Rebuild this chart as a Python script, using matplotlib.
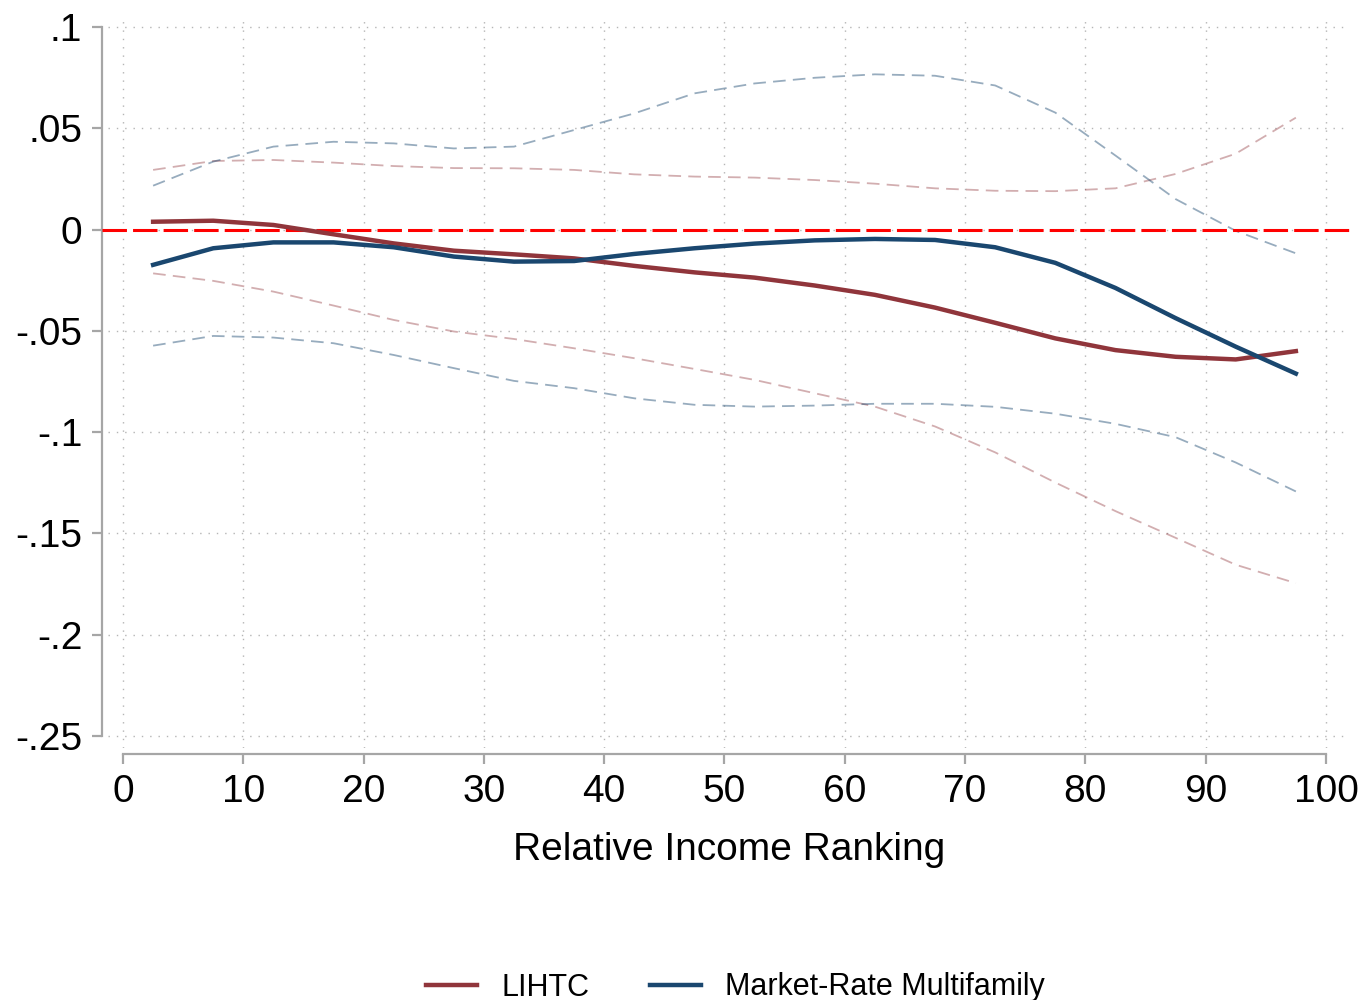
import matplotlib
matplotlib.use("Agg")
import matplotlib.pyplot as plt

plt.rcParams['font.family'] = ['Liberation Sans', 'DejaVu Sans']

# income ranking bins (midpoints)
x = [2.5, 7.5, 12.5, 17.5, 22.5, 27.5, 32.5, 37.5, 42.5, 47.5,
     52.5, 57.5, 62.5, 67.5, 72.5, 77.5, 82.5, 87.5, 92.5, 97.5]

lihtc = [0.0039, 0.0044, 0.0023, -0.0023, -0.0068, -0.0104, -0.0122, -0.0142, -0.0179, -0.0211,
         -0.0237, -0.0276, -0.0322, -0.0385, -0.0460, -0.0537, -0.0595, -0.0628, -0.0641, -0.0600]
lihtc_hi = [0.0295, 0.0339, 0.0344, 0.0331, 0.0314, 0.0304, 0.0303, 0.0295, 0.0273, 0.0262,
            0.0257, 0.0245, 0.0227, 0.0204, 0.0192, 0.0190, 0.0204, 0.0275, 0.0375, 0.0553]
lihtc_lo = [-0.0216, -0.0253, -0.0306, -0.0375, -0.0446, -0.0503, -0.0540, -0.0586, -0.0635, -0.0688,
            -0.0742, -0.0808, -0.0874, -0.0972, -0.1100, -0.1249, -0.1390, -0.1522, -0.1655, -0.1746]

market = [-0.0174, -0.0092, -0.0063, -0.0063, -0.0087, -0.0133, -0.0158, -0.0155, -0.0120, -0.0092,
          -0.0069, -0.0053, -0.0046, -0.0051, -0.0087, -0.0164, -0.0288, -0.0437, -0.0578, -0.0711]
market_hi = [0.0217, 0.0336, 0.0410, 0.0434, 0.0426, 0.0401, 0.0410, 0.0492, 0.0574, 0.0673,
             0.0722, 0.0750, 0.0767, 0.0760, 0.0712, 0.0578, 0.0366, 0.0151, -0.0006, -0.0117]
market_lo = [-0.0573, -0.0525, -0.0533, -0.0561, -0.0619, -0.0684, -0.0747, -0.0783, -0.0833, -0.0865,
             -0.0874, -0.0869, -0.0860, -0.0860, -0.0875, -0.0909, -0.0959, -0.1025, -0.1150, -0.1293]

xticks = list(range(0, 101, 10))
yticks = [-0.25, -0.2, -0.15, -0.1, -0.05, 0, 0.05, 0.1]
ylabels = ['-.25', '-.2', '-.15', '-.1', '-.05', '0', '.05', '.1']

red = '#90353B'
navy = '#1A476F'
gray = '#a6a6a6'

fig = plt.figure(figsize=(13.62, 10), dpi=100)
ax = fig.add_axes([108 / 1362, 0.252, (1350 - 108) / 1362, 0.733])

# confidence bands
ax.plot(x, lihtc_hi, color=red, alpha=0.4, lw=1.3, dashes=(7, 4))
ax.plot(x, lihtc_lo, color=red, alpha=0.4, lw=1.3, dashes=(7, 4))
ax.plot(x, market_hi, color=navy, alpha=0.45, lw=1.3, dashes=(7, 4))
ax.plot(x, market_lo, color=navy, alpha=0.45, lw=1.3, dashes=(7, 4))

ax.axhline(0, color='red', lw=2.2, dashes=(8, 2), xmin=-0.005, clip_on=False, zorder=3)

ax.plot(x, lihtc, color=red, lw=3.2, label='LIHTC', zorder=4)
ax.plot(x, market, color=navy, lw=3.2, label='Market-Rate Multifamily', zorder=4)

ax.set_xlim(-1.25, 102)
ax.set_ylim(-0.256, 0.106)
ax.set_xticks(xticks)
ax.set_yticks(yticks)
ax.set_yticklabels(ylabels)

ax.grid(True, color='#b5b5b5', lw=1.0, linestyle=(0, (1, 5)))
ax.set_axisbelow(True)

for side in ['top', 'right']:
    ax.spines[side].set_visible(False)
for side in ['left', 'bottom']:
    ax.spines[side].set_color(gray)
    ax.spines[side].set_linewidth(1.6)
    ax.spines[side].set_position(('outward', 4.5))
ax.spines['left'].set_bounds(-0.25, 0.1)
ax.spines['bottom'].set_bounds(0, 100)

ax.tick_params(axis='both', colors=gray, width=1.6, length=7, labelsize=28,
               labelcolor='black', pad=7)

ax.set_xlabel('Relative Income Ranking', fontsize=28, labelpad=16)

fig.legend(loc='lower center', bbox_to_anchor=(0.54, -0.03), ncol=2, frameon=False,
           fontsize=22, handlelength=1.65, handletextpad=0.8, columnspacing=2.0)

fig.savefig('out.png', dpi=100)
